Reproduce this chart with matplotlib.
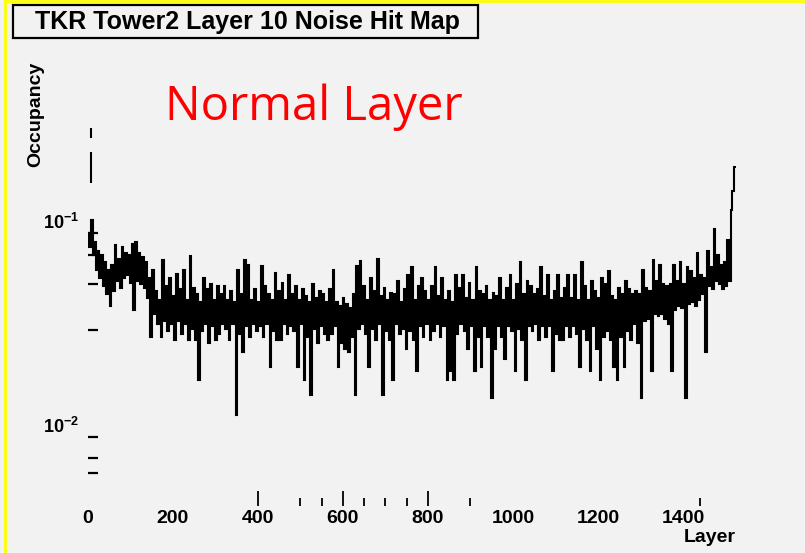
import numpy as np
import matplotlib
matplotlib.use("Agg")
import matplotlib.pyplot as plt
from matplotlib.patches import Rectangle
from matplotlib.lines import Line2D
from matplotlib.ticker import FixedLocator, FixedFormatter, NullFormatter

# noise occupancy per group of 4 strips, tower 2 layer 10
bin_width = 4
occupancy = [
    # 0 - 80
    0.100, 0.085, 0.116, 0.078, 0.090, 0.066, 0.082, 0.060, 0.078, 0.055,
    0.072, 0.050, 0.066, 0.044, 0.070, 0.052, 0.087, 0.058, 0.075, 0.054,
    # 80 - 160
    0.085, 0.060, 0.080, 0.062, 0.078, 0.057, 0.088, 0.042, 0.090, 0.058,
    0.080, 0.056, 0.076, 0.054, 0.072, 0.048, 0.060, 0.031, 0.066, 0.040,
    # 160 - 240
    0.052, 0.036, 0.047, 0.031, 0.074, 0.037, 0.055, 0.033, 0.060, 0.036,
    0.049, 0.030, 0.063, 0.037, 0.053, 0.032, 0.066, 0.036, 0.047, 0.030,
    # 240 - 320
    0.077, 0.034, 0.054, 0.030, 0.050, 0.019, 0.046, 0.033, 0.060, 0.036,
    0.053, 0.029, 0.056, 0.035, 0.047, 0.030, 0.055, 0.032, 0.050, 0.036,
    # 320 - 400
    0.055, 0.034, 0.047, 0.030, 0.052, 0.036, 0.046, 0.0128, 0.066, 0.032,
    0.050, 0.026, 0.074, 0.035, 0.070, 0.031, 0.047, 0.036, 0.053, 0.033,
    # 400 - 480
    0.046, 0.035, 0.069, 0.031, 0.055, 0.036, 0.050, 0.022, 0.047, 0.033,
    0.064, 0.030, 0.052, 0.030, 0.057, 0.036, 0.047, 0.032, 0.062, 0.035,
    # 480 - 560
    0.050, 0.033, 0.055, 0.022, 0.047, 0.036, 0.053, 0.019, 0.049, 0.031,
    0.046, 0.016, 0.056, 0.034, 0.048, 0.029, 0.052, 0.035, 0.050, 0.032,
    # 560 - 640
    0.046, 0.030, 0.053, 0.032, 0.066, 0.035, 0.046, 0.022, 0.044, 0.029,
    0.048, 0.027, 0.045, 0.026, 0.043, 0.031, 0.050, 0.016, 0.069, 0.034,
    # 640 - 720
    0.073, 0.036, 0.055, 0.032, 0.047, 0.022, 0.060, 0.034, 0.052, 0.030,
    0.075, 0.036, 0.049, 0.016, 0.054, 0.033, 0.047, 0.030, 0.051, 0.019,
    # 720 - 800
    0.050, 0.036, 0.058, 0.032, 0.046, 0.034, 0.053, 0.027, 0.062, 0.033,
    0.068, 0.030, 0.047, 0.021, 0.055, 0.035, 0.060, 0.031, 0.052, 0.036,
    # 800 - 880
    0.047, 0.030, 0.055, 0.033, 0.068, 0.036, 0.049, 0.031, 0.060, 0.035,
    0.047, 0.019, 0.052, 0.021, 0.046, 0.019, 0.062, 0.032, 0.054, 0.036,
    # 880 - 960
    0.062, 0.033, 0.048, 0.027, 0.057, 0.035, 0.047, 0.021, 0.068, 0.031,
    0.052, 0.022, 0.050, 0.035, 0.055, 0.031, 0.047, 0.0155, 0.051, 0.027,
    # 960 - 1040
    0.049, 0.035, 0.060, 0.031, 0.047, 0.024, 0.054, 0.035, 0.062, 0.033,
    0.047, 0.021, 0.056, 0.034, 0.072, 0.030, 0.050, 0.019, 0.058, 0.035,
    # 1040 - 1120
    0.055, 0.033, 0.050, 0.036, 0.053, 0.030, 0.068, 0.035, 0.049, 0.031,
    0.062, 0.035, 0.047, 0.021, 0.052, 0.032, 0.062, 0.030, 0.048, 0.030,
    # 1120 - 1200
    0.054, 0.035, 0.062, 0.031, 0.048, 0.035, 0.062, 0.032, 0.047, 0.022,
    0.072, 0.034, 0.055, 0.030, 0.047, 0.021, 0.058, 0.035, 0.052, 0.027,
    # 1200 - 1280
    0.048, 0.019, 0.060, 0.031, 0.056, 0.033, 0.065, 0.030, 0.049, 0.022,
    0.047, 0.019, 0.054, 0.031, 0.050, 0.022, 0.058, 0.033, 0.053, 0.030,
    # 1280 - 1360
    0.050, 0.036, 0.052, 0.029, 0.050, 0.0155, 0.066, 0.037, 0.054, 0.038,
    0.052, 0.021, 0.074, 0.040, 0.058, 0.039, 0.070, 0.040, 0.056, 0.038,
    # 1360 - 1440
    0.055, 0.036, 0.056, 0.021, 0.070, 0.042, 0.058, 0.044, 0.072, 0.043,
    0.056, 0.0155, 0.068, 0.045, 0.065, 0.046, 0.060, 0.044, 0.080, 0.047,
    # 1440 - 1524
    0.062, 0.050, 0.060, 0.026, 0.082, 0.055, 0.068, 0.053, 0.105, 0.058,
    0.078, 0.056, 0.070, 0.053, 0.072, 0.055, 0.092, 0.058, 0.130, 0.160,
    0.210,
]

x_labels = [0, 200, 400, 600, 800, 1000, 1200, 1400]
x_long_ticks = [400, 600, 800]
x_short_ticks = [500, 550, 650, 700, 750, 900, 1440]
y_major = [0.01, 0.1]
y_major_labels = [r"$\mathbf{10^{-2}}$", r"$\mathbf{10^{-1}}$"]
y_minor = [0.0067, 0.0079, 0.0335, 0.056, 0.078]
axis_stubs = [(0.176, 0.249), (0.292, 0.327)]

plt.rcParams["font.family"] = ["Liberation Sans", "DejaVu Sans"]
plt.rcParams["font.weight"] = "bold"
plt.rcParams["mathtext.fontset"] = "custom"
plt.rcParams["mathtext.bf"] = "Liberation Sans:bold"
plt.rcParams["mathtext.rm"] = "Liberation Sans"

bg = "#f2f2f2"
fig = plt.figure(figsize=(8.05, 5.53), dpi=100, facecolor=bg)
W, H = 805, 553
ax = fig.add_axes([87.5 / W, 1 - 506 / H, (741 - 87.5) / W, (506 - 50) / H])
ax.set_facecolor("none")

edges = np.arange(len(occupancy) + 1) * bin_width
ax.stairs(occupancy, edges, baseline=None, color="black", linewidth=1.5)

ax.set_yscale("log")
ax.set_xlim(0, 1536)
ax.set_ylim(0.004592, 0.789)

for s in ax.spines.values():
    s.set_visible(False)

# what is left of the y axis line near the top
for lo, hi in axis_stubs:
    ax.vlines(8, lo, hi, color="black", linewidth=1.5)

ax.xaxis.set_major_locator(FixedLocator(x_labels))
ax.xaxis.set_major_formatter(FixedFormatter([str(v) for v in x_labels]))
ax.xaxis.set_minor_locator(FixedLocator(x_short_ticks))
ax.tick_params(axis="x", which="major", direction="in", length=11, width=1.3,
               pad=3, labelsize=14)
ax.tick_params(axis="x", which="minor", direction="in", length=6, width=1.3)
for tick, val in zip(ax.xaxis.get_major_ticks(), x_labels):
    if val not in x_long_ticks:
        tick.tick1line.set_visible(False)

ax.yaxis.set_major_locator(FixedLocator(y_major))
ax.yaxis.set_major_formatter(FixedFormatter(y_major_labels))
ax.yaxis.set_minor_locator(FixedLocator(y_minor))
ax.yaxis.set_minor_formatter(NullFormatter())
ax.tick_params(axis="y", which="both", direction="in", length=7, width=1.6,
               pad=6, labelsize=13)
for lab in ax.get_yticklabels():
    lab.set_verticalalignment("bottom")

fig.text(36 / W, 1 - 114 / H, "Occupancy", rotation=90, ha="center",
         va="center", fontsize=14)
fig.text(710 / W, 1 - 538 / H, "Layer", ha="center", va="center", fontsize=14)

# title box
fig.add_artist(Rectangle((13 / W, 1 - 38 / H), 465 / W, 33 / H,
                         transform=fig.transFigure, facecolor=bg,
                         edgecolor="black", linewidth=1.6))
fig.text(247 / W, 1 - 22 / H, "TKR Tower2 Layer 10 Noise Hit Map",
         ha="center", va="center", fontsize=18)

fig.text(314 / W, 1 - 107 / H, "Normal Layer", color="#ff0000",
         ha="center", va="center", fontsize=34, fontweight="normal",
         family="Open Sans")

# yellow frame on the left and top
fig.add_artist(Line2D([5 / W, 5 / W], [0, 1 - 1 / H], transform=fig.transFigure,
                      color="#ffff00", linewidth=2))
fig.add_artist(Line2D([5 / W, 1], [1 - 1 / H, 1 - 1 / H], transform=fig.transFigure,
                      color="#ffff00", linewidth=2))

fig.savefig("out.png", dpi=100, facecolor=bg)
